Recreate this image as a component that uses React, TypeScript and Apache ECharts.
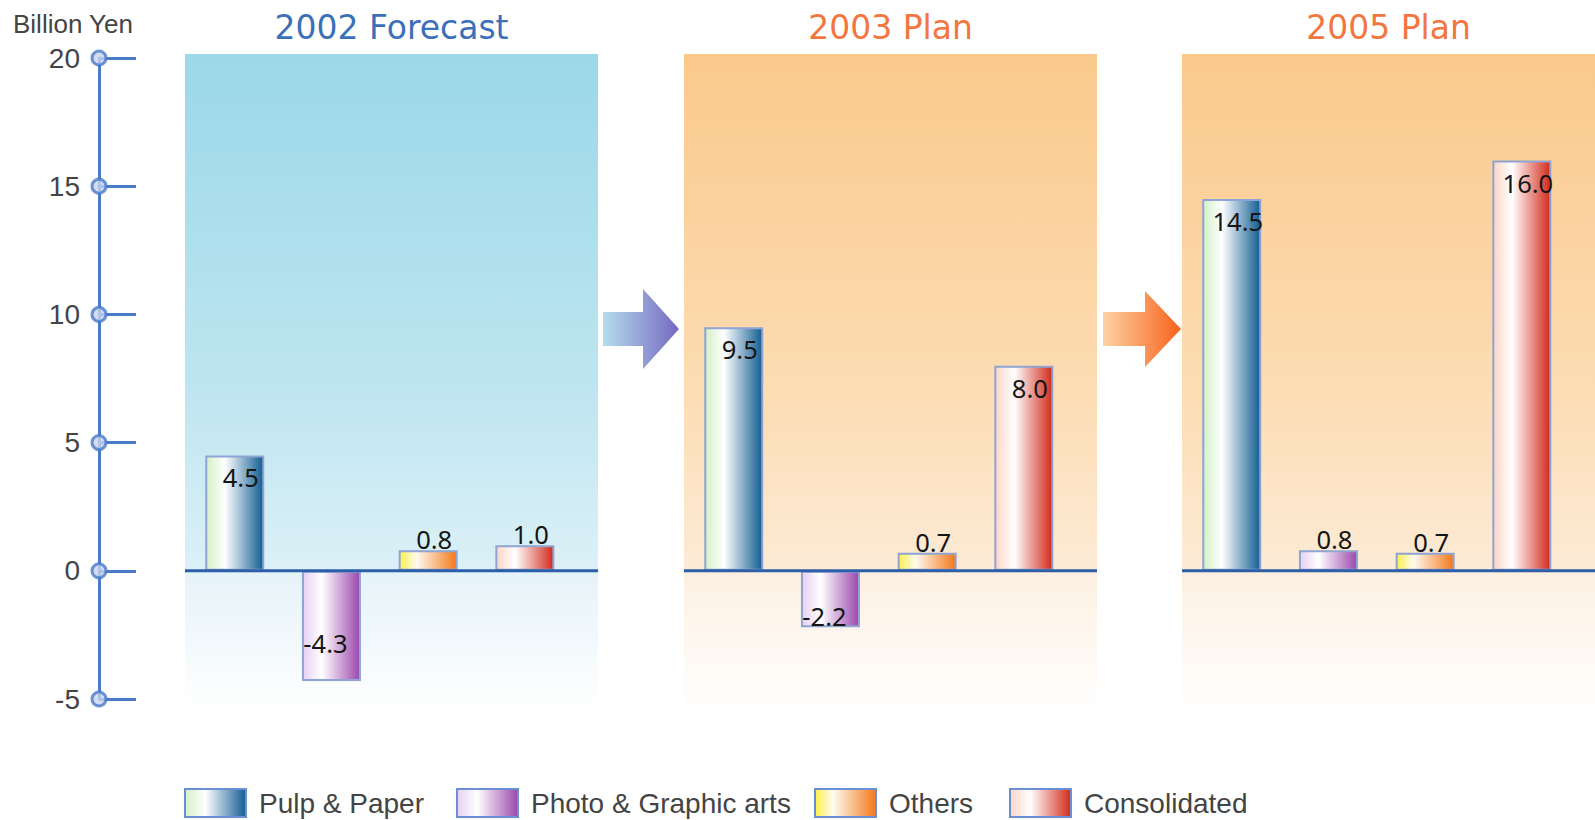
import React, { useEffect, useRef } from "react";
import * as echarts from "echarts";

// ---- data ----
const categories = ["Pulp & Paper", "Photo & Graphic arts", "Others", "Consolidated"];
const periods = ["2002 Forecast", "2003 Plan", "2005 Plan"];
const pulpPaper = [4.5, 9.5, 14.5];
const photoGraphic = [-4.3, -2.2, 0.8];
const others = [0.8, 0.7, 0.7];
const consolidated = [1.0, 8.0, 16.0];
const yTicks = [-5, 0, 5, 10, 15, 20];
const yUnit = "Billion Yen";

const seriesValues = [pulpPaper, photoGraphic, others, consolidated];

// ---- layout / style ----
const PANEL_LEFTS = [185, 684, 1182];
const PANEL_W = 413;
const PANEL_TOP = 54;
const PANEL_BOTTOM = 712;
const GRID_TOP = 58;
const GRID_BOTTOM = 121;
const BAR_GRID_OFFSET = 1.4;
const BAR_GRID_W = 386.8;
const AXIS_BLUE = "#4a7bc8";
const TITLE_COLORS = ["#3b6fba", "#f37540", "#f37540"];
const LEGEND_LEFTS = [184, 456, 814, 1009];

const grad = (stops: [number, string][]) => ({
  type: "linear",
  x: 0,
  y: 0,
  x2: 1,
  y2: 0,
  colorStops: stops.map(([offset, color]) => ({ offset, color })),
});
const vgrad = (stops: [number, string][]) => ({
  type: "linear",
  x: 0,
  y: 0,
  x2: 0,
  y2: 1,
  colorStops: stops.map(([offset, color]) => ({ offset, color })),
});

const barFills = [
  grad([[0, "#d3f0c6"], [0.33, "#ffffff"], [0.95, "#23699a"], [1, "#1d5f8c"]]),
  grad([[0, "#e6cff3"], [0.33, "#ffffff"], [1, "#9b48ad"]]),
  grad([[0, "#fff04a"], [0.3, "#fffaf0"], [1, "#f3781a"]]),
  grad([[0, "#fcd5c6"], [0.33, "#ffffff"], [1, "#d22a1a"]]),
];

const panelFills = [
  vgrad([[0, "#9bd8e8"], [0.5, "#bde5f0"], [0.785, "#dcf0f7"], [0.79, "#e6f3f9"], [1, "#ffffff"]]),
  vgrad([[0, "#fac98c"], [0.5, "#fcdcb2"], [0.785, "#fdebd6"], [0.79, "#fdf0e2"], [1, "#ffffff"]]),
  vgrad([[0, "#fac98c"], [0.5, "#fcdcb2"], [0.785, "#fdebd6"], [0.79, "#fdf0e2"], [1, "#ffffff"]]),
];

const labelFor = (v: number) => {
  const base = {
    show: true,
    formatter: (p: any) => Number(p.value).toFixed(1),
    fontFamily: "Noto Sans",
    fontSize: 25.5,
    color: "#151515",
  };
  if (v < 0) return { ...base, position: "inside", offset: [-6, 17] };
  if (v < 2) return { ...base, position: "top", distance: 0, offset: [6, 2] };
  return { ...base, position: "insideTop", distance: 4, offset: [6, 5] };
};

function buildOption() {
  const grids: any[] = [
    { left: 99, width: 40, top: GRID_TOP, bottom: GRID_BOTTOM },
    ...PANEL_LEFTS.map((pl) => ({
      left: pl + BAR_GRID_OFFSET,
      width: BAR_GRID_W,
      top: GRID_TOP,
      bottom: GRID_BOTTOM,
    })),
  ];
  const xAxes: any[] = [
    { gridIndex: 0, type: "value", min: 0, max: 1, show: false },
    ...periods.map((_, g) => ({
      gridIndex: g + 1,
      type: "category",
      data: categories,
      show: false,
    })),
  ];
  const yAxes: any[] = [
    {
      gridIndex: 0,
      type: "value",
      min: -5,
      max: 20,
      interval: 5,
      position: "left",
      axisLine: { show: true, lineStyle: { color: AXIS_BLUE, width: 3 } },
      axisTick: { show: true, inside: true, length: 37, lineStyle: { color: AXIS_BLUE, width: 3 } },
      axisLabel: { fontSize: 28, color: "#444", margin: 19, fontFamily: "Liberation Sans" },
      splitLine: { show: false },
    },
    ...periods.map((_, g) => ({
      gridIndex: g + 1,
      type: "value",
      min: -5,
      max: 20,
      interval: 5,
      show: false,
      splitLine: { show: false },
    })),
  ];

  const series: any[] = [
    {
      type: "scatter",
      xAxisIndex: 0,
      yAxisIndex: 0,
      data: yTicks.map((v) => [0, v]),
      symbol: "circle",
      symbolSize: 14,
      clip: false,
      silent: true,
      itemStyle: { color: "#c7d3ef", borderColor: AXIS_BLUE, borderWidth: 3 },
      z: 5,
    },
  ];
  periods.forEach((_, g) => {
    categories.forEach((name, s) => {
      series.push({
        type: "bar",
        name,
        xAxisIndex: g + 1,
        yAxisIndex: g + 1,
        barWidth: 59,
        barGap: "-100%",
        itemStyle: { color: barFills[s], borderColor: "#8fa4d2", borderWidth: 2 },
        data: categories.map((_, k) =>
          k === s ? { value: seriesValues[s][g], label: labelFor(seriesValues[s][g]) } : "-"
        ),
      });
    });
  });

  const legends = categories.map((name, s) => ({
    data: [{ name, icon: "rect" }],
    left: LEGEND_LEFTS[s],
    top: 788,
    padding: 0,
    itemWidth: 61,
    itemHeight: 28,
    selectedMode: false,
    itemStyle: { borderColor: "#6b8fd3", borderWidth: 2 },
    textStyle: { fontSize: 28, color: "#444", fontFamily: "Liberation Sans", padding: [0, 0, 0, 8] },
  }));

  return {
    animation: false,
    backgroundColor: "#ffffff",
    grid: grids,
    xAxis: xAxes,
    yAxis: yAxes,
    legend: legends,
    series,
  };
}

function buildGraphics(zeroYs: number[]) {
  const els: any[] = [];
  PANEL_LEFTS.forEach((pl, g) => {
    els.push({
      type: "rect",
      z: -10,
      silent: true,
      shape: { x: pl, y: PANEL_TOP, width: PANEL_W, height: PANEL_BOTTOM - PANEL_TOP },
      style: { fill: panelFills[g] },
    });
    els.push({
      type: "line",
      z: 50,
      silent: true,
      shape: { x1: pl, y1: zeroYs[g], x2: pl + PANEL_W, y2: zeroYs[g] },
      style: { stroke: "#2d5fa8", lineWidth: 3 },
    });
    els.push({
      type: "text",
      z: 50,
      x: pl + PANEL_W / 2,
      y: 27,
      style: {
        text: periods[g],
        fill: TITLE_COLORS[g],
        fontSize: 33,
        fontFamily: "DejaVu Sans",
        align: "center",
        verticalAlign: "middle",
      },
    });
  });
  // arrows
  els.push({
    type: "polygon",
    z: 10,
    silent: true,
    shape: {
      points: [
        [603, 312], [643, 312], [643, 289], [679, 329], [643, 369], [643, 346], [603, 346],
      ],
    },
    style: { fill: grad([[0, "#b4dcec"], [1, "#7468c0"]]) },
  });
  els.push({
    type: "polygon",
    z: 10,
    silent: true,
    shape: {
      points: [
        [1103, 312], [1145, 312], [1145, 291], [1181, 329], [1145, 367], [1145, 346], [1103, 346],
      ],
    },
    style: { fill: grad([[0, "#fcd2a4"], [1, "#f8621a"]]) },
  });
  els.push({
    type: "text",
    z: 50,
    x: 13,
    y: 24,
    style: {
      text: yUnit,
      fill: "#444",
      fontSize: 26,
      fontFamily: "Liberation Sans",
      verticalAlign: "middle",
    },
  });
  return els;
}

export default function App() {
  const ref = useRef<HTMLDivElement>(null);
  useEffect(() => {
    if (!ref.current) return;
    const chart = echarts.init(ref.current, null, { renderer: "svg" });
    chart.setOption(buildOption() as any);
    const zeroYs = periods.map((_, g) => chart.convertToPixel({ yAxisIndex: g + 1 } as any, 0) as number);
    chart.setOption({ graphic: buildGraphics(zeroYs) } as any);
    return () => chart.dispose();
  }, []);
  return (
    <div
      ref={ref}
      style={{ position: "absolute", left: 0, top: 0, width: 1595, height: 820 }}
    />
  );
}
